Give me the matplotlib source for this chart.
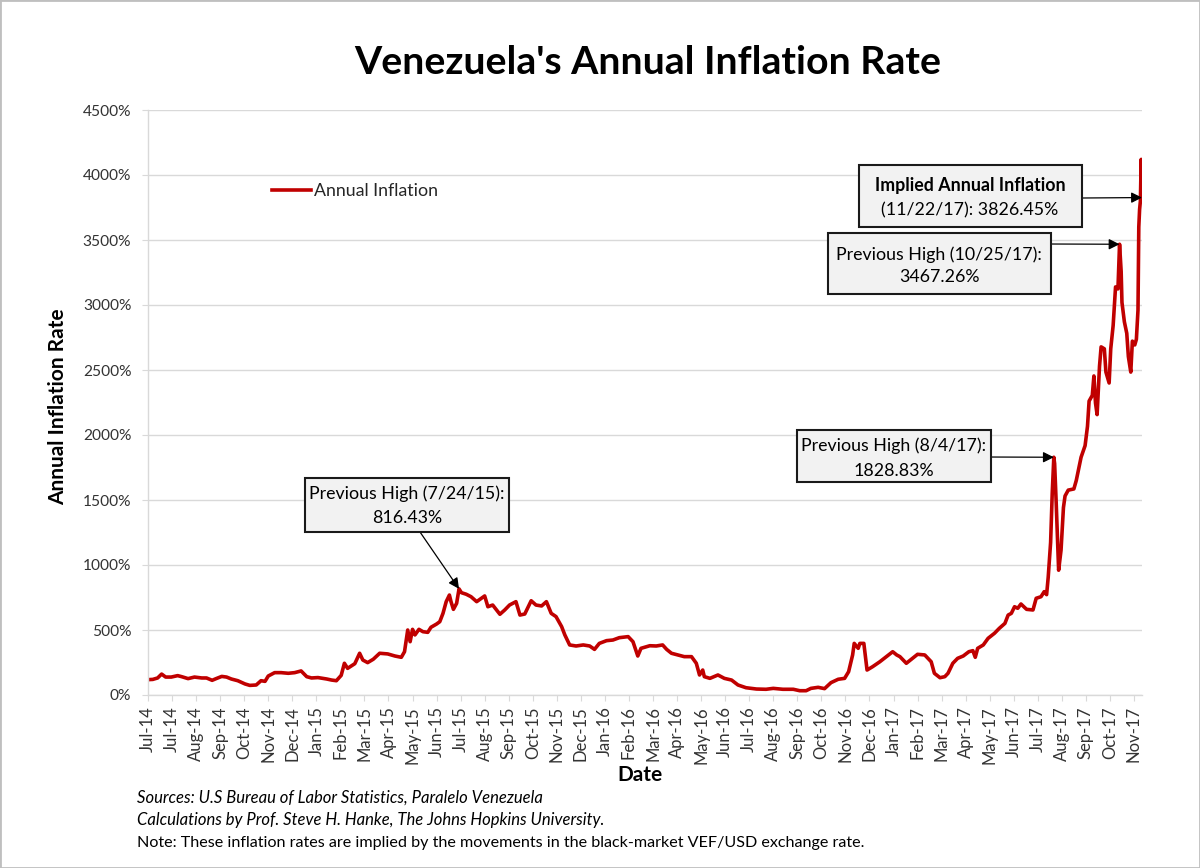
import pandas as pd
import matplotlib
matplotlib.use('Agg')
import matplotlib.pyplot as plt
import matplotlib.dates as mdates
from matplotlib.patches import Rectangle
from matplotlib.ticker import MultipleLocator, FuncFormatter

plt.rcParams['font.family'] = ['Lato', 'DejaVu Sans']

# data: days since 1 Jul 2014 and annual inflation (%)
start_date = '2014-07-01'
day_offset = [0, 6, 12, 17, 22, 29, 37, 42, 50, 58, 67, 73, 80, 85, 92, 98, 104, 112, 121, 127,
              135, 141, 146, 150, 158, 166, 175, 183, 191, 198, 204, 212, 223, 229, 235, 241, 245, 249, 258, 264,
              268, 274, 281, 289, 299, 308, 316, 320, 324, 327, 330, 333, 338, 343, 349, 353, 360, 364, 368, 372,
              376, 378, 381, 385, 388, 391, 397, 403, 410, 420, 424, 430, 439, 445, 451, 459, 464, 470, 478, 484,
              491, 497, 503, 509, 516, 520, 526, 534, 543, 551, 557, 563, 572, 580, 588, 599, 605, 611, 615, 622,
              626, 634, 642, 647, 653, 661, 669, 678, 684, 688, 692, 694, 701, 711, 719, 728, 736, 746, 759, 771,
              780, 792, 805, 813, 821, 827, 836, 844, 852, 861, 869, 874, 879, 881, 886, 888, 893, 895, 897, 904,
              913, 921, 929, 934, 938, 946, 952, 960, 969, 977, 981, 988, 994, 998, 1004, 1010, 1017, 1024, 1029, 1032,
              1035, 1042, 1048, 1056, 1062, 1069, 1073, 1077, 1081, 1085, 1089, 1096, 1104, 1108, 1114, 1118, 1121, 1123, 1126, 1128,
              1130, 1131, 1133, 1136, 1139, 1142, 1144, 1148, 1155, 1158, 1161, 1164, 1169, 1172, 1174, 1178, 1180, 1182, 1184, 1187,
              1189, 1193, 1195, 1199, 1201, 1204, 1207, 1210, 1212, 1214, 1215, 1218, 1221, 1223, 1226, 1228, 1231, 1233, 1235, 1236,
              1237, 1238, 1239, 1240]
inflation = [118, 120, 131, 161, 138, 138, 149, 141, 126, 138, 131, 131, 113, 126, 143, 138, 123, 110, 85, 74,
             77, 110, 105, 146, 172, 172, 167, 172, 185, 141, 131, 134, 123, 115, 110, 151, 244, 205, 241, 321,
             269, 249, 275, 321, 316, 300, 290, 333, 500, 410, 505, 462, 505, 487, 482, 521, 546, 564, 628, 718,
             769, 718, 659, 705, 816.43, 787, 775, 756, 718, 762, 679, 692, 621, 654, 692, 718, 615, 623, 725, 692,
             685, 718, 628, 603, 526, 462, 385, 377, 385, 377, 351, 397, 418, 423, 441, 449, 410, 300, 359, 372,
             379, 377, 385, 351, 321, 308, 295, 295, 244, 154, 192, 141, 128, 154, 128, 115, 77, 56, 46, 44,
             51, 44, 44, 33, 33, 51, 59, 49, 95, 121, 128, 179, 308, 397, 359, 397, 397, 295, 192, 218,
             256, 295, 333, 308, 295, 244, 274, 313, 308, 256, 167, 133, 141, 167, 244, 282, 300, 333, 341, 290,
             359, 385, 436, 475, 513, 551, 615, 628, 679, 667, 700, 659, 654, 744, 756, 795, 772, 906, 1174, 1550,
             1828.83, 1780, 1472, 960, 1114, 1442, 1531, 1576, 1585, 1650, 1740, 1829, 1918, 2067, 2261, 2305, 2454, 2246, 2157, 2529,
             2678, 2663, 2484, 2400, 2663, 2842, 3139, 3124, 3467.26, 3258, 3020, 2871, 2782, 2603, 2484, 2722, 2693, 2737, 2961, 3600,
             3735, 3800, 4120, 3826.45]

# annotated points
note_dates = ['2015-07-24', '2017-08-04', '2017-10-25', '2017-11-22']
note_values = [816.43, 1828.83, 3467.26, 3826.45]

dates = pd.to_datetime(start_date) + pd.to_timedelta(day_offset, unit='D')
ticks = pd.date_range(start_date, periods=42, freq='30D')

W, H = 1200, 868
fig = plt.figure(figsize=(W / 100, H / 100), dpi=100)


def fx(px):
    return px / W


def fy(py):
    return 1 - py / H


ax = fig.add_axes([fx(148), fy(695), fx(1142) - fx(148), fy(110) - fy(695)])

ax.plot(dates, inflation, color='#C00000', lw=2.6, solid_joinstyle='round', label='Annual Inflation')

ax.set_ylim(0, 4500)
ax.set_xlim(dates[0], dates[-1])
ax.yaxis.set_major_locator(MultipleLocator(500))
ax.yaxis.set_major_formatter(FuncFormatter(lambda v, p: '%d%%' % v))
ax.set_xticks(ticks)
ax.xaxis.set_major_formatter(mdates.DateFormatter('%b-%y'))
plt.setp(ax.get_xticklabels(), rotation=90)

ax.grid(axis='y', color='#D9D9D9', lw=1)
ax.set_axisbelow(True)
for s in ['top', 'right']:
    ax.spines[s].set_visible(False)
for s in ['left', 'bottom']:
    ax.spines[s].set_color('#D9D9D9')
    ax.spines[s].set_linewidth(1)
ax.tick_params(axis='both', colors='#D9D9D9', labelcolor='#333333', length=4)
ax.tick_params(axis='y', pad=8, labelsize=11.2)
ax.tick_params(axis='x', pad=4, labelsize=12)

fig.text(fx(648), fy(63), "Venezuela's Annual Inflation Rate", ha='center', va='center',
         fontsize=28.3, fontweight='bold')
fig.text(fx(58), fy(407), 'Annual Inflation Rate', rotation=90, ha='center', va='center',
         fontsize=15, fontweight='bold')
fig.text(fx(640), fy(775), 'Date', ha='center', va='center', fontsize=15, fontweight='bold')

fig.text(fx(137), fy(798), 'Sources: U.S Bureau of Labor Statistics, Paralelo Venezuela',
         ha='left', va='center', fontsize=12, style='italic')
fig.text(fx(137), fy(820), 'Calculations by Prof. Steve H. Hanke, The Johns Hopkins University.',
         ha='left', va='center', fontsize=12, style='italic')
fig.text(fx(137), fy(843), 'Note: These inflation rates are implied by the movements in the black-market VEF/USD exchange rate.',
         ha='left', va='center', fontsize=11.6)

ax.legend(loc='center left', bbox_to_anchor=(fx(272), fy(191)), bbox_transform=fig.transFigure,
          frameon=False, fontsize=12.8, handlelength=2.2, handletextpad=0.15, borderpad=0, borderaxespad=0,
          labelcolor='#262626')

# callout boxes: (left, top, right, bottom) in pixels, text lines with centre y
boxes = [
    ((305, 478, 509, 532), 407, [('Previous High (7/24/15):', 494, 'normal'), ('816.43%', 518, 'normal')]),
    ((797, 430, 991, 482), 894, [('Previous High (8/4/17):', 446, 'normal'), ('1828.83%', 471, 'normal')]),
    ((828, 233, 1051, 294), 939, [('Previous High (10/25/17):', 255, 'normal'), ('3467.26%', 277, 'normal')]),
    ((859, 165, 1082, 227), 970, [('Implied Annual Inflation', 185, 'bold'), ('(11/22/17): 3826.45%', 210, 'normal')]),
]
for (l, t, r, b), cx, lines in boxes:
    fig.add_artist(Rectangle((fx(l), fy(b)), fx(r) - fx(l), fy(t) - fy(b), transform=fig.transFigure,
                             facecolor='#F2F2F2', edgecolor='#1a1a1a', lw=1.5, zorder=5))
    for txt, ty, wt in lines:
        fig.text(fx(cx), fy(ty), txt, ha='center', va='center', fontsize=12.8, fontweight=wt, zorder=6)

# arrow start points (pixels)
arrow_starts = [(420, 532), (985, 457), (1048, 244), (1083, 198)]
for (sx, sy), d, v in zip(arrow_starts, note_dates, note_values):
    ax.annotate('', xy=(pd.Timestamp(d), v), xycoords='data', xytext=(fx(sx), fy(sy)),
                textcoords='figure fraction', annotation_clip=False,
                arrowprops=dict(arrowstyle='-|>', color='black', lw=0.9, mutation_scale=16,
                                shrinkA=0, shrinkB=0), zorder=7)

fig.add_artist(Rectangle((0, 0), 1, 1, transform=fig.transFigure, fill=False, edgecolor='#BFBFBF', lw=2))

plt.savefig('out.png', dpi=100)
